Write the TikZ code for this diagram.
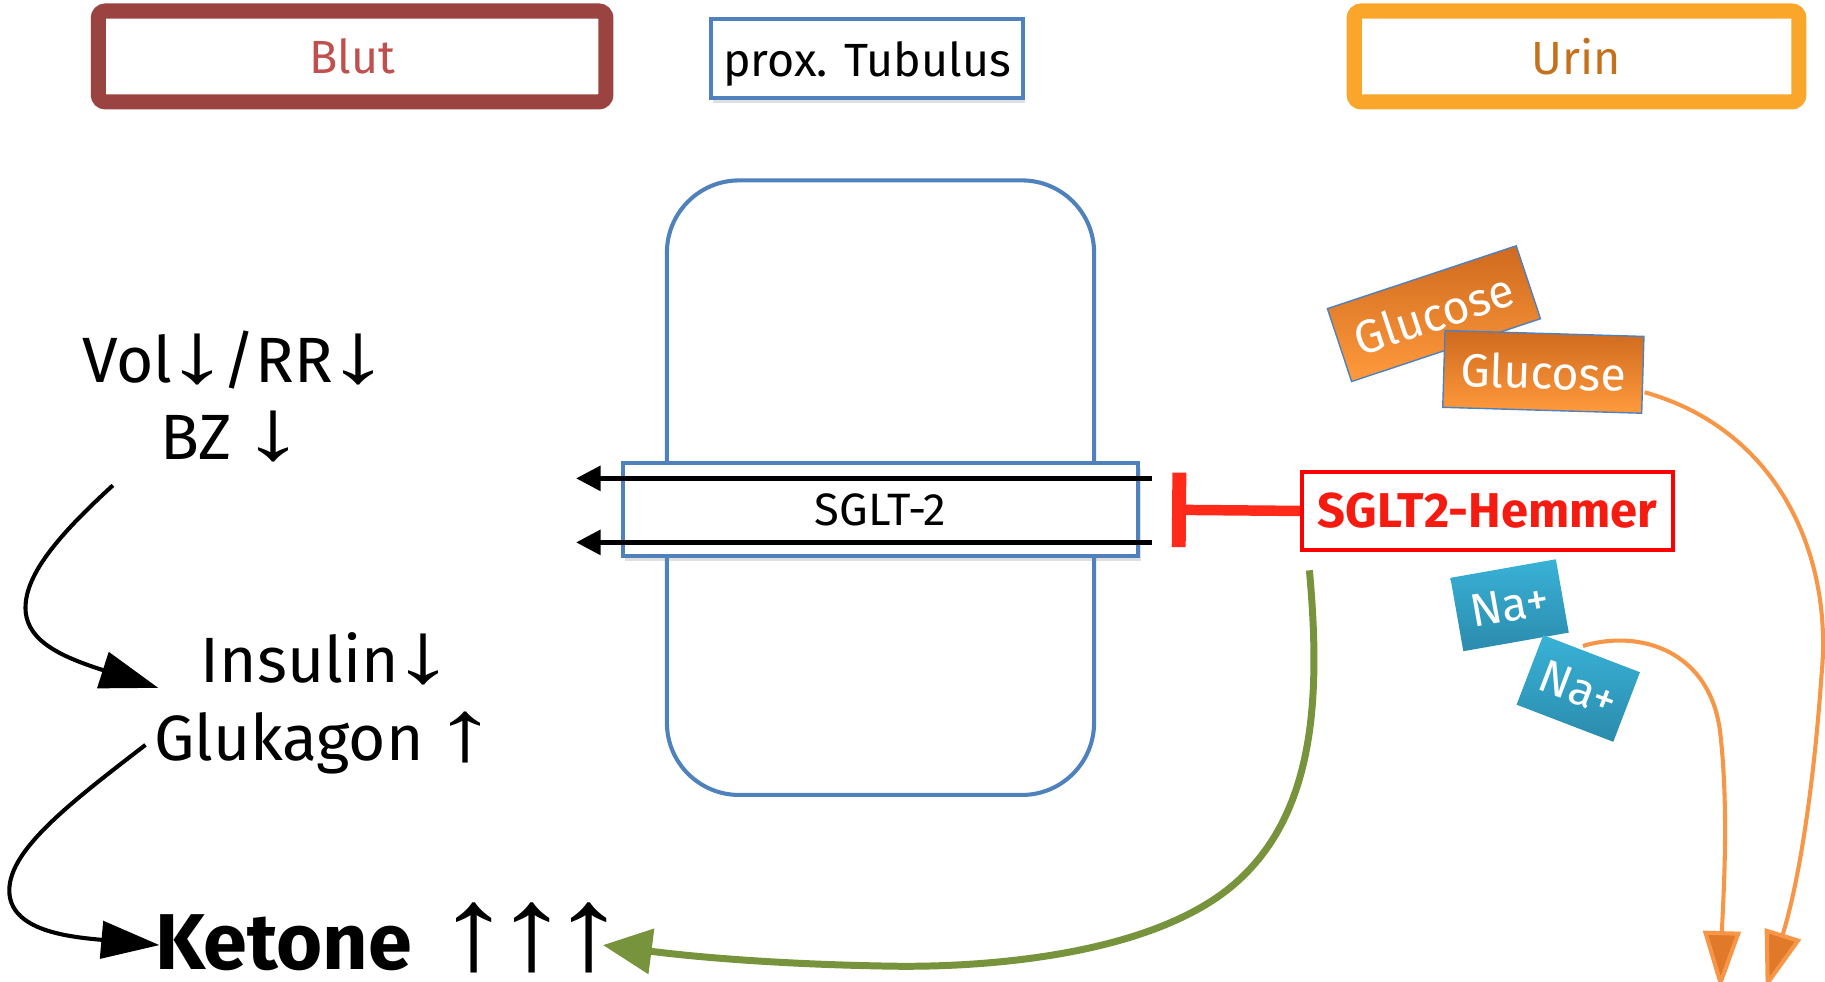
\documentclass[tikz,border=0pt]{standalone}
\usepackage{fontspec}
\usepackage{graphicx}
\setmainfont{Fira Sans}
\newfontfamily\arrf{Liberation Sans}
\newcommand{\dnarr}{{\kern-6pt\scalebox{2}[1.35]{\arrf ↓}\kern-6pt}}
\newcommand{\uparr}{{\kern-6pt\scalebox{2}[1.35]{\arrf ↑}\kern-6pt}}
\newcommand{\karr}{\scalebox{1.9}[1.5]{\arrf ↑}}
\usetikzlibrary{arrows.meta,shadows}
\definecolor{blutdark}{HTML}{9B4341}
\definecolor{bluttext}{HTML}{C0504D}
\definecolor{urinor}{HTML}{F9A62A}
\definecolor{urintext}{HTML}{C5701B}
\definecolor{tblue}{HTML}{4F81BD}
\definecolor{hred}{HTML}{FF2A1A}
\definecolor{htext}{HTML}{F51B10}
\definecolor{kgreen}{HTML}{77933C}
\definecolor{uor}{HTML}{F79646}
\definecolor{uordark}{HTML}{E07A2A}
\definecolor{gtop}{HTML}{CF6A1F}
\definecolor{gbot}{HTML}{FF9A3D}
\definecolor{ntop}{HTML}{38B2D6}
\definecolor{nbot}{HTML}{2B8BAD}
\begin{document}
\begin{tikzpicture}[x=1pt,y=-1pt,
  hdr/.style={draw, line width=13pt, rounded corners=6pt, fill=white, inner sep=0pt,
    minimum height=78pt, font=\fontsize{40}{48}\selectfont,
    drop shadow={opacity=0.25,shadow xshift=3pt,shadow yshift=-5pt}},
  bluebox/.style={draw=tblue, line width=3.5pt, fill=white, inner sep=0pt,
    drop shadow={opacity=0.25,shadow xshift=2pt,shadow yshift=-4pt}},
  gluc/.style={draw=tblue, line width=1.2pt, top color=gtop, bottom color=gbot, text=white,
    minimum width=171pt, minimum height=66pt, inner sep=0pt, font=\fontsize{40}{48}\selectfont},
  na/.style={top color=ntop, bottom color=nbot, text=white, inner sep=0pt,
    minimum width=92pt, minimum height=64pt, font=\fontsize{40}{46}\selectfont},
  big/.style={inner sep=0pt, font=\fontsize{55}{66}\selectfont},
  blk/.style={line width=3.5pt, -{Triangle[length=50pt,width=32pt]}},
  thinarr/.style={line width=4pt, -{Triangle[length=21pt,width=21pt]}},
  grn/.style={draw=kgreen, line width=6pt, -{Triangle[length=42pt,width=38pt,fill=kgreen]}},
  orng/.style={draw=uor, line width=3.5pt, -{Triangle[length=50pt,width=32pt,fill=uordark]}},
  inh/.style={draw=hred, line width=9pt, -{Bar[width=64pt,line width=12pt]}}
]
\useasboundingbox (0,0) rectangle (1568,843);

% header boxes
\node[hdr, draw=blutdark, text=bluttext, minimum width=436pt] (blut) at (302.5,48.5) {Blut};
\node[bluebox, minimum width=268pt, minimum height=68pt, font=\fontsize{40}{48}\selectfont] (prox) at (745,50.5) {\raisebox{0pt}[31pt][0pt]{prox. Tubulus}};
\node[hdr, draw=urinor, text=urintext, minimum width=382pt] (urin) at (1354.5,48.5) {Urin};

% tubulus cell
\node[draw=tblue, line width=3.5pt, rounded corners=62pt, minimum width=367pt, minimum height=528pt] (cell) at (756.5,419) {};

% SGLT-2 transporter
\node[bluebox, minimum width=443pt, minimum height=80pt, font=\fontsize{39}{46}\selectfont] (sglt) at (756.5,438) {SGLT-2};

% transport arrows
\coordinate (r1) at (990,411);
\coordinate (l1) at (495,411);
\coordinate (r2) at (990,466);
\coordinate (l2) at (495,466);
\draw[thinarr] (r1) -- (l1);
\draw[thinarr] (r2) -- (l2);

% SGLT2 inhibitor
\node[draw=red, line width=3pt, fill=white, inner sep=0pt, minimum width=319pt, minimum height=67pt,
  text=htext, font=\fontsize{42}{48}\selectfont\bfseries] (hem) at (1278,439) {SGLT2-Hemmer};
\coordinate (bar) at (1007,438);
\draw[inh] (hem.west) -- (bar);

% glucose
\node[gluc, rotate=18.4] (g1) at (1232,269.5) {Glucose};
\node[gluc, rotate=-1.7] (g2) at (1326,319.5) {Glucose};

% sodium
\node[na, rotate=10] (n1) at (1297,520) {Na+};
\node[na, rotate=-21, minimum width=89pt] (n2) at (1356,591.5) {Na+};

% left texts
\node[big, anchor=base] (vol) at (200,329) {Vol\dnarr/RR\dnarr};
\node[big, anchor=base] (bz) at (197,395) {BZ \dnarr};
\node[big, anchor=base] (ins) at (279,586) {Insulin\dnarr};
\node[big, anchor=base] (glk) at (277,653) {Glukagon \uparr};
\node[inner sep=0pt, anchor=base west, font=\fontsize{68}{80}\selectfont] (ket) at (133,833) {\textbf{Ketone}\hspace{21pt}\karr\kern-15pt\karr\kern-15pt\karr};

% black cascade arrows
\coordinate (c1) at (97,417);
\coordinate (t1) at (136,591);
\draw[blk] (c1) .. controls (50,460) and (20,495) .. (22,525) .. controls (24,552) and (55,565) .. (t1);
\coordinate (c2) at (125,640);
\coordinate (t2) at (137,812);
\draw[blk] (c2) .. controls (60,690) and (8,730) .. (8,765) .. controls (8,800) and (60,805) .. (t2);

% green arrow to ketones
\coordinate (gs) at (1125,490);
\coordinate (gt) at (518,812);
\draw[grn] (gs) .. controls (1135,600) and (1130,700) .. (1060,760) .. controls (990,820) and (850,832) .. (760,830) .. controls (650,828) and (580,820) .. (gt);

% orange arrows to urine
\coordinate (os) at (1413,337);
\coordinate (ot) at (1517,850);
\draw[orng] (os) .. controls (1530,370) and (1575,480) .. (1565,580) .. controls (1558,680) and (1545,760) .. (ot);
\coordinate (ns) at (1360,555);
\coordinate (nt) at (1478,850);
\draw[orng] (ns) .. controls (1410,540) and (1470,560) .. (1478,630) .. controls (1486,700) and (1480,780) .. (nt);
\end{tikzpicture}
\end{document}
